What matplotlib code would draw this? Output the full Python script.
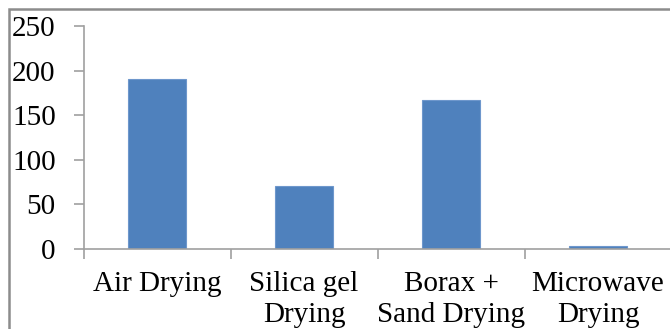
import matplotlib.pyplot as plt
from matplotlib.patches import Rectangle

# drying methods and measured values
methods = ["Air Drying", "Silica gel\nDrying", "Borax +\nSand Drying", "Microwave\nDrying"]
values = [191, 71, 167, 3]
yticks = [0, 50, 100, 150, 200, 250]

plt.rcParams['font.family'] = ['Liberation Serif', 'DejaVu Serif']

fig = plt.figure(figsize=(6.7, 3.29), dpi=100)
ax = fig.add_axes([83.5 / 670, 80 / 329, 588 / 670, 223 / 329])

x = list(range(len(methods)))
ax.bar(x, values, width=0.4, color="#4F81BD", edgecolor="#6E97CC", linewidth=0.8)

ax.set_xlim(-0.5, len(methods) - 0.5)
ax.set_ylim(0, 250)
ax.set_yticks(yticks)
ax.set_xticks(x)
ax.set_xticklabels(methods, linespacing=1.25, va="top")
# category boundary ticks
ax.set_xticks([i - 0.5 for i in x], minor=True)

for side in ("top", "right"):
    ax.spines[side].set_visible(False)
for side in ("left", "bottom"):
    ax.spines[side].set_color("#A0A0A0")
    ax.spines[side].set_linewidth(1.2)

ax.tick_params(axis="y", length=7, width=1.2, color="#A0A0A0", pad=13, labelsize=21)
ax.tick_params(axis="x", which="major", length=0, pad=16, labelsize=21)
ax.tick_params(axis="x", which="minor", length=7, width=1.2, color="#A0A0A0")

# outer chart border
fig.patches.append(Rectangle((9 / 670, -0.1), 1.2, (320 / 329) + 0.1, transform=fig.transFigure,
                             fill=False, edgecolor="#8C8C8C", linewidth=1.8))

fig.savefig("out.png", dpi=100)
